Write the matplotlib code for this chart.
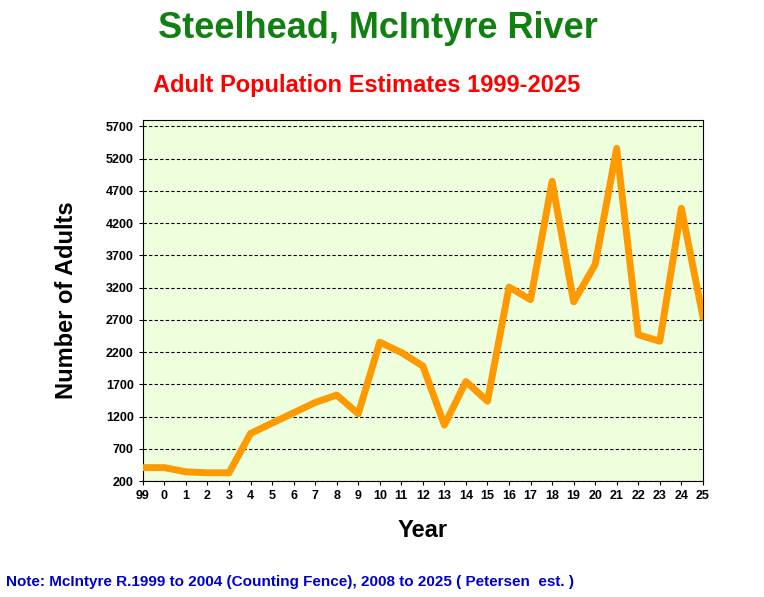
import matplotlib
matplotlib.use("Agg")
import matplotlib.pyplot as plt

years = ["99","0","1","2","3","4","5","6","7","8","9","10","11","12","13","14","15","16","17","18","19","20","21","22","23","24","25"]
adults = [410,410,345,330,330,940,1100,1260,1420,1535,1245,2355,2195,1985,1070,1745,1440,3210,3015,4850,2980,3560,5360,2470,2370,4430,2755]
yticks = list(range(200, 5701, 500))

plt.rcParams['font.family'] = ['Liberation Sans', 'DejaVu Sans']
fig = plt.figure(figsize=(7.64, 5.97), dpi=100)
ax = fig.add_axes([0.187, 0.194, 0.733, 0.605])
ax.set_facecolor('#eeffdd')
x = list(range(len(years)))
ax.plot(x, adults, color='#ff9900', lw=5, solid_joinstyle='round', zorder=3)
ax.set_xlim(0, len(years)-1)
ax.set_ylim(200, 5800)
ax.set_xticks(x)
ax.set_xticklabels(years, fontsize=9, fontweight='bold')
ax.set_yticks(yticks)
ax.set_yticklabels([str(v) for v in yticks], fontsize=9, fontweight='bold')
ax.yaxis.grid(True, linestyle=(0,(3,2)), color='black', lw=0.8)
ax.tick_params(length=3)
ax.set_xlabel('Year', fontsize=17, fontweight='bold', labelpad=12)
ax.set_ylabel('Number of Adults', fontsize=17, fontweight='bold', labelpad=20)
fig.text(0.495, 0.953, 'Steelhead, McIntyre River', color='#108010', fontsize=26, fontweight='bold', ha='center', va='center')
fig.text(0.48, 0.857, 'Adult Population Estimates 1999-2025', color='#ff0000', fontsize=17, fontweight='bold', ha='center', va='center')
fig.text(0.008, 0.025, 'Note: McIntyre R.1999 to 2004 (Counting Fence), 2008 to 2025 ( Petersen  est. )', color='#0000cc', fontsize=11, fontweight='bold', ha='left', va='center')
fig.savefig('out.png', dpi=100)
